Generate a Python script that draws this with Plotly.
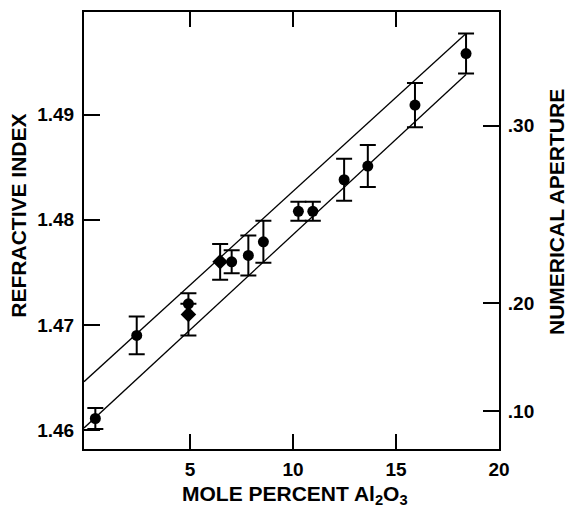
import numpy as np
import plotly.graph_objects as go

# Measured refractive index vs. Al2O3 content (filled circles)
mole_pct_circle = [0.40, 2.41, 4.92, 7.02, 7.83, 8.56, 10.26, 10.96, 12.48, 13.63, 15.92, 18.40]
index_circle = [1.4611, 1.4690, 1.4720, 1.4760, 1.4766, 1.4779, 1.4808, 1.4808, 1.4838, 1.4851, 1.4909, 1.4958]
err_circle = [0.0010, 0.0018, None, 0.0011, 0.0019, 0.0020, 0.0009, 0.0009, 0.0020, 0.0020, 0.0021, 0.0019]

# Second sample set (diamonds)
mole_pct_diamond = [4.92, 6.46]
index_diamond = [1.4710, 1.4760]
err_diamond = [0.0020, 0.0017]

# Upper / lower bounding lines
band_x = [-0.15, 18.40]
band_upper = [1.4646, 1.4977]
band_lower = [1.4602, 1.4938]

# Axis ticks
x_ticks = [5, 10, 15, 20]
index_ticks = [1.46, 1.47, 1.48, 1.49]
na_ticks = [0.10, 0.20, 0.30]
na_labels = [".10", ".20", ".30"]
n_cladding = 1.4584

X_RANGE = [-0.15, 20.0]
Y_RANGE = [1.45820, 1.49975]

# Numerical aperture positions on the index scale: n = sqrt(n_clad^2 + NA^2)
na_positions = [float(np.sqrt(n_cladding ** 2 + na ** 2)) for na in na_ticks]

FONT = "Liberation Sans"
BLACK = "#000000"


def bold(s):
    return f"<b>{s}</b>"


fig = go.Figure()

for yvals in (band_upper, band_lower):
    fig.add_trace(go.Scatter(
        x=band_x, y=yvals, mode="lines",
        line=dict(color=BLACK, width=1.3), showlegend=False, hoverinfo="skip",
    ))

fig.add_trace(go.Scatter(
    x=mole_pct_circle, y=index_circle, mode="markers",
    marker=dict(symbol="circle", size=11, color=BLACK),
    error_y=dict(type="data", array=err_circle, visible=True,
                 color=BLACK, thickness=2, width=8),
    showlegend=False,
))

fig.add_trace(go.Scatter(
    x=mole_pct_diamond, y=index_diamond, mode="markers",
    marker=dict(symbol="diamond", size=12, color=BLACK),
    error_y=dict(type="data", array=err_diamond, visible=True,
                 color=BLACK, thickness=2, width=8),
    showlegend=False,
))

# Invisible trace to activate the right-hand numerical aperture axis
fig.add_trace(go.Scatter(x=[None], y=[None], yaxis="y2", showlegend=False))

tick_font = dict(family=FONT, size=19, color=BLACK)
title_font = dict(family=FONT, size=21, color=BLACK)

fig.update_layout(
    width=572, height=511,
    margin=dict(l=84, r=73, t=10, b=62),
    paper_bgcolor="white", plot_bgcolor="white",
    xaxis=dict(
        range=X_RANGE, tickvals=x_ticks, ticktext=[bold(v) for v in x_ticks],
        ticks="inside", ticklen=15, tickwidth=2, tickcolor=BLACK,
        showline=True, linecolor=BLACK, linewidth=2, mirror="ticks",
        showgrid=False, zeroline=False, tickfont=tick_font,
        ticklabelstandoff=2,
    ),
    yaxis=dict(
        range=Y_RANGE, tickvals=index_ticks,
        ticktext=[bold(f"{v:.2f}") for v in index_ticks],
        ticks="inside", ticklen=16, tickwidth=2, tickcolor=BLACK,
        showline=True, linecolor=BLACK, linewidth=2,
        showgrid=False, zeroline=False, tickfont=tick_font,
        ticklabelstandoff=4,
    ),
    yaxis2=dict(
        range=Y_RANGE, overlaying="y", side="right",
        tickvals=na_positions, ticktext=[bold(t) for t in na_labels],
        ticks="inside", ticklen=16, tickwidth=2, tickcolor=BLACK,
        showline=True, linecolor=BLACK, linewidth=2,
        showgrid=False, zeroline=False, tickfont=tick_font,
        ticklabelstandoff=3,
    ),
    annotations=[
        dict(text=bold("REFRACTIVE INDEX"), xref="paper", yref="paper",
             x=-0.160, y=0.533, textangle=-90, showarrow=False,
             xanchor="center", yanchor="middle", font=title_font),
        dict(text=bold("NUMERICAL APERTURE"), xref="paper", yref="paper",
             x=1.137, y=0.542, textangle=-90, showarrow=False,
             xanchor="center", yanchor="middle", font=title_font),
        dict(text=bold("MOLE PERCENT Al<sub>2</sub>O<sub>3</sub>"), xref="paper", yref="paper",
             x=0.5096, y=-0.106, showarrow=False,
             xanchor="center", yanchor="middle", font=title_font),
    ],
)

fig.write_html("out.html")
